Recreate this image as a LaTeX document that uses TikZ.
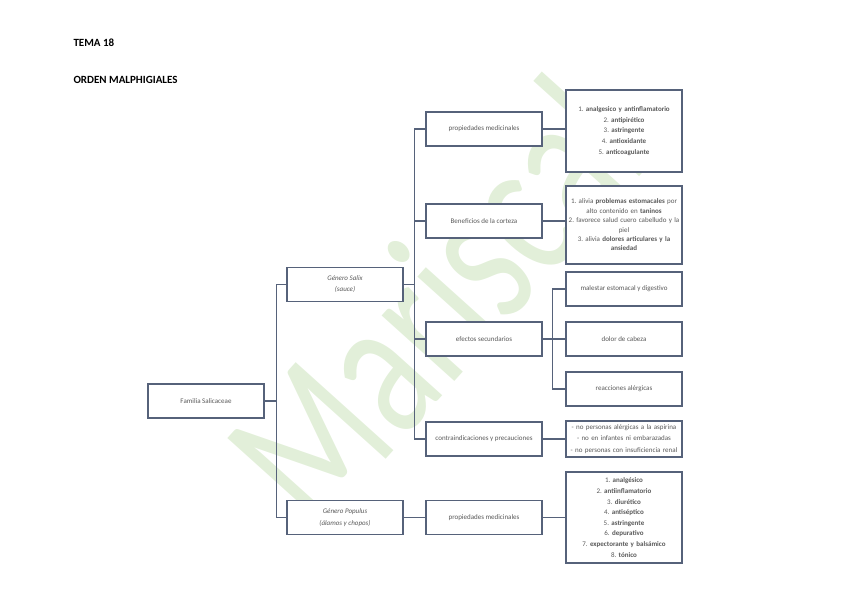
\documentclass[tikz,border=0pt]{standalone}
\usepackage{fontspec}
\setmainfont{Carlito}
\definecolor{linea}{HTML}{56627A}
\definecolor{texto}{HTML}{595959}
\definecolor{marca}{HTML}{E2EFD9}
\frenchspacing

\begin{document}
\begin{tikzpicture}[x=1pt, y=-1pt,
  caja/.style={draw=linea, fill=white, line width=1.3pt, minimum width=116pt,
    minimum height=34pt, align=center, text=texto, inner sep=2pt,
    font=\fontsize{7}{11}\selectfont},
  lista/.style={caja, text width=112pt},
  conector/.style={draw=linea, line width=1.3pt}]
  \useasboundingbox (0,0) rectangle (848,599);
  \node[rotate=48, text=marca, font=\fontsize{205}{205}\selectfont, xscale=0.72]
    (agua) at (434,300) {Mariscal};

  \node[anchor=west, font=\fontsize{11}{11}\selectfont\bfseries] (tema) at (70,43) {TEMA 18};
  \node[anchor=west, font=\fontsize{11}{11}\selectfont\bfseries] (orden) at (70,80) {ORDEN MALPHIGIALES};

  \node[caja] (familia) at (206,401) {Familia Salicaceae};
  \node[caja, font=\fontsize{7}{11}\selectfont\itshape] (salix) at (345,284.5) {Género Salix\\(sauce)};
  \node[caja, font=\fontsize{7}{11.5}\selectfont\itshape] (populus) at (345,517.5) {Género Populus\\(álamos y chopos)};

  \node[caja] (propsalix) at (484,129) {propiedades medicinales};
  \node[caja] (corteza) at (484,221) {Beneficios de la corteza};
  \node[caja] (efectos) at (484,339) {efectos secundarios};
  \node[caja] (contra) at (484,439) {contraindicaciones y precauciones};
  \node[caja] (proppop) at (484,517.5) {propiedades medicinales};

  \node[lista, minimum height=82pt, font=\fontsize{7}{10.8}\selectfont] (lista1) at (624,131)
    {1. \textbf{analgesico y antinflamatorio}\\2. \textbf{antipirético}\\3. \textbf{astringente}\\
     4. \textbf{antioxidante}\\5. \textbf{anticoagulante}};
  \node[lista, minimum height=78pt, font=\fontsize{7}{9.4}\selectfont] (lista2) at (624,225)
    {1. alivia \textbf{problemas estomacales} por\\alto contenido en \textbf{taninos}\\
     2. favorece salud cuero cabelludo y la\\piel\\
     3. alivia \textbf{dolores articulares y la}\\\textbf{ansiedad}};
  \node[caja] (malestar) at (624,289) {malestar estomacal y digestivo};
  \node[caja] (dolor) at (624,339) {dolor de cabeza};
  \node[caja] (alergia) at (624,389) {reacciones alérgicas};
  \node[lista, minimum height=36pt, font=\fontsize{7}{11.5}\selectfont] (lista3) at (624,439)
    {- no personas alérgicas a la aspirina\\- no en infantes ni embarazadas\\- no personas con insuficiencia renal};
  \node[lista, minimum height=91pt, font=\fontsize{7}{10.6}\selectfont] (lista4) at (624,517.5)
    {1. \textbf{analgésico}\\2. \textbf{antiinflamatorio}\\3. \textbf{diurético}\\4. \textbf{antiséptico}\\
     5. \textbf{astringente}\\6. \textbf{depurativo}\\7. \textbf{expectorante y balsámico}\\8. \textbf{tónico}};

  \foreach \hijo in {salix, populus}
    \draw[conector] (familia.east) -- ++(12,0) |- (\hijo.west);
  \foreach \hijo in {propsalix, corteza, efectos, contra}
    \draw[conector] (salix.east) -- ++(11,0) |- (\hijo.west);
  \foreach \hijo in {malestar, dolor, alergia}
    \draw[conector] (efectos.east) -- ++(10,0) |- (\hijo.west);
  \draw[conector] (propsalix.east) -- (propsalix.east -| lista1.west);
  \draw[conector] (corteza.east) -- (corteza.east -| lista2.west);
  \draw[conector] (contra.east) -- (lista3.west);
  \draw[conector] (populus.east) -- (proppop.west);
  \draw[conector] (proppop.east) -- (lista4.west);
\end{tikzpicture}
\end{document}
